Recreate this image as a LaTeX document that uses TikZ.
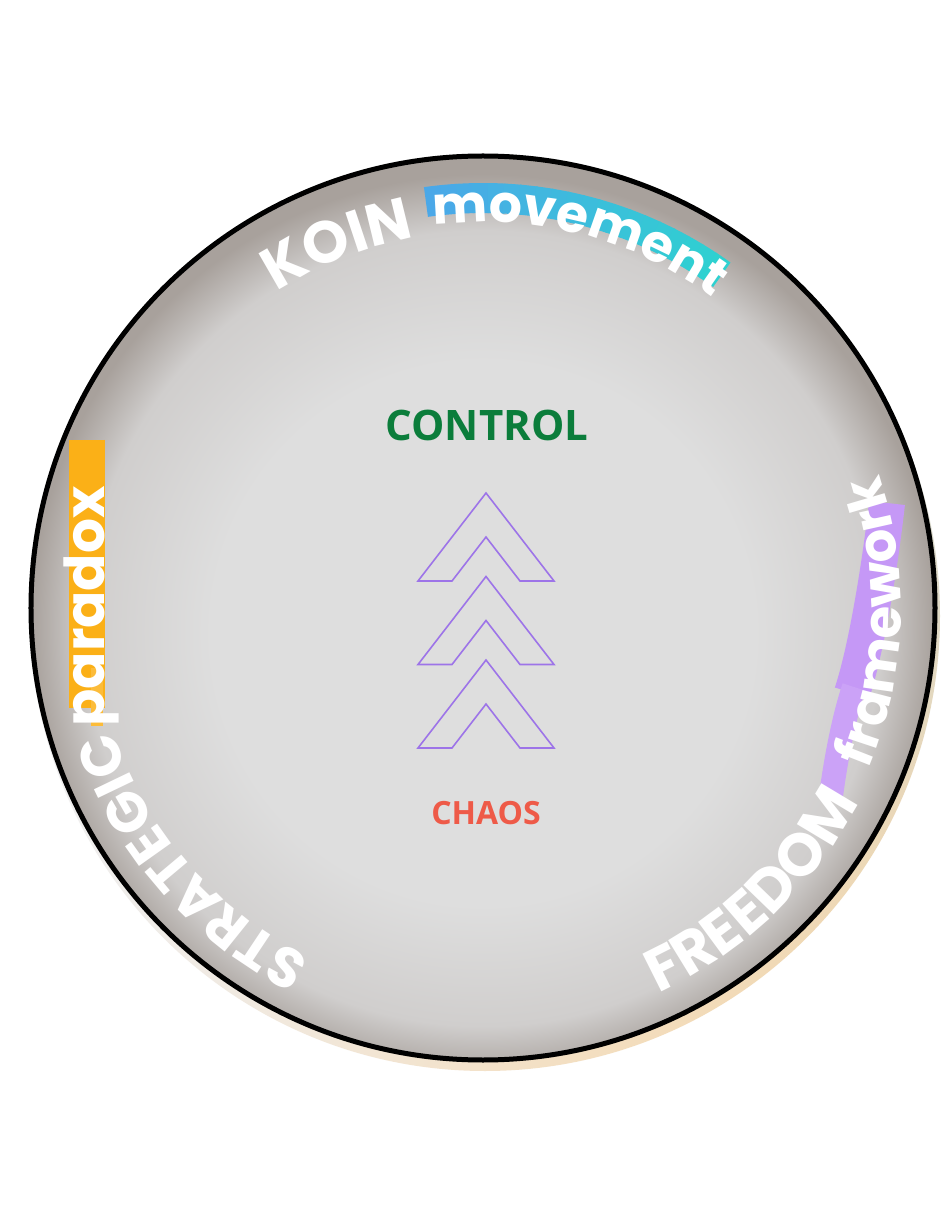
\documentclass[tikz,border=0pt]{standalone}
\usepackage{fontspec}
\usepackage{xcolor}
\usetikzlibrary{positioning}
\usetikzlibrary{shadings}
\usetikzlibrary{decorations.text}
\newfontfamily\ringfont{Poppins}
\newfontfamily\titlefont{Open Sans}
\definecolor{discin}{HTML}{DEDEDE}
\definecolor{discmid}{HTML}{D0CECD}
\definecolor{discout}{HTML}{A8A19C}
\definecolor{rimul}{HTML}{EDEDED}
\definecolor{rimur}{HTML}{C9DEEA}
\definecolor{rimll}{HTML}{F0F0F2}
\definecolor{rimlr}{HTML}{F6D3A0}
\definecolor{brushblue}{HTML}{4BA8E8}
\definecolor{brushteal}{HTML}{2DD3CF}
\definecolor{brushorange}{HTML}{FBB017}
\definecolor{brushpurple}{HTML}{C598F6}
\definecolor{controlgreen}{HTML}{0B7D3B}
\definecolor{chaosred}{HTML}{EE5A48}
\definecolor{chevpurple}{HTML}{9D74E8}
\pgfdeclareradialshading{discshade}{\pgfpoint{0bp}{-2bp}}{color(0bp)=(discin);
  color(15bp)=(discin); color(22bp)=(discmid); color(25bp)=(discout);
  color(50bp)=(discout)}
\newcommand\ringword[1]{\ringfont\bfseries\fontsize{#1}{#1}\selectfont}
\tikzset{chevron/.style = {draw = chevpurple, line width = 1.6pt, line join = miter}}
\tikzset{ringtext/.style = {decorate, decoration = {text along path,
                                  text align = center, text color = white,
                                  text = {#1}}}}
\tikzset{brush/.style = {line width = #1, line cap = butt}}
\tikzset{toplabel/.style = {font = \titlefont\bfseries\fontsize{42}{42}\selectfont,
                            text = controlgreen, inner sep = 0}}
\tikzset{bottomlabel/.style = {font = \titlefont\bfseries\fontsize{32}{32}\selectfont,
                               text = chaosred, inner sep = 0}}
\begin{document}
\begin{tikzpicture}[x=1pt, y=1pt]
    \useasboundingbox (-483,-620) rectangle (465,608);
    \fill[white] (-483,-620) rectangle (465,608);
    % disc and its rim
    \shade[upper left = rimul, upper right = rimur,
           lower left = rimll, lower right = rimlr] (2,-8) circle (455);
    \shade[shading = discshade] (0,0) circle (452);
    \draw[line width = 5pt, black] (0,0) circle (452);
    % brush strokes
    \foreach \i in {0,...,19} {
        \pgfmathsetmacro\a{98 - \i*2.17}
        \pgfmathsetmacro\pct{100 - \i*5}
        \draw[brush = 30pt, brushblue!\pct!brushteal]
            (\a:410) arc[start angle = \a, end angle = \a - 2.4, radius = 410];
    }
    \draw[brush = 36pt, brushorange] (-396,168) -- (-396,-100);
    \draw[brush = 12pt, brushorange!85] (-386,-60) -- (-386,-118);
    \draw[brush = 36pt, brushpurple] (404,105) .. controls (398,50) and (384,-40) .. (369,-85);
    \draw[brush = 24pt, brushpurple!90] (371,-79) .. controls (361,-109) and (353,-150) .. (348,-188);
    % curved titles
    \path[ringtext = {|\ringword{59}|KOIN}]
        (141.75:377) arc[start angle = 141.75, end angle = 81.75, radius = 377];
    \path[ringtext = {|\ringword{52}|movement}]
        (105.4:386) arc[start angle = 105.4, end angle = 45.4, radius = 386];
    \path[ringtext = {|\ringword{56}|STRATEGIC}]
        (251:390) arc[start angle = 251, end angle = 191, radius = 390];
    \path[ringtext = {|\ringword{55}|paradox}]
        (-378,-150) -- (-378,153);
    \path[ringtext = {|\ringword{60}|FREEDOM}]
        (-76.4:423) arc[start angle = -76.4, end angle = -16.4, radius = 423];
    \path[ringtext = {|\ringword{53}|framework}]
        (-32:418) arc[start angle = -32, end angle = 28, radius = 418];
    % labels
    \node[toplabel] (control) at (4,183) {CONTROL};
    \node[bottomlabel] (chaos) at (3,-205) {CHAOS};
    % chevrons
    \foreach \y in {115, 31.5, -52} {
        \draw[chevron] (3,\y) -- ++(68,-88) -- ++(-34,0) -- ++(-34,44)
            -- ++(-34,-44) -- ++(-34,0) -- cycle;
    }
\end{tikzpicture}
\end{document}
